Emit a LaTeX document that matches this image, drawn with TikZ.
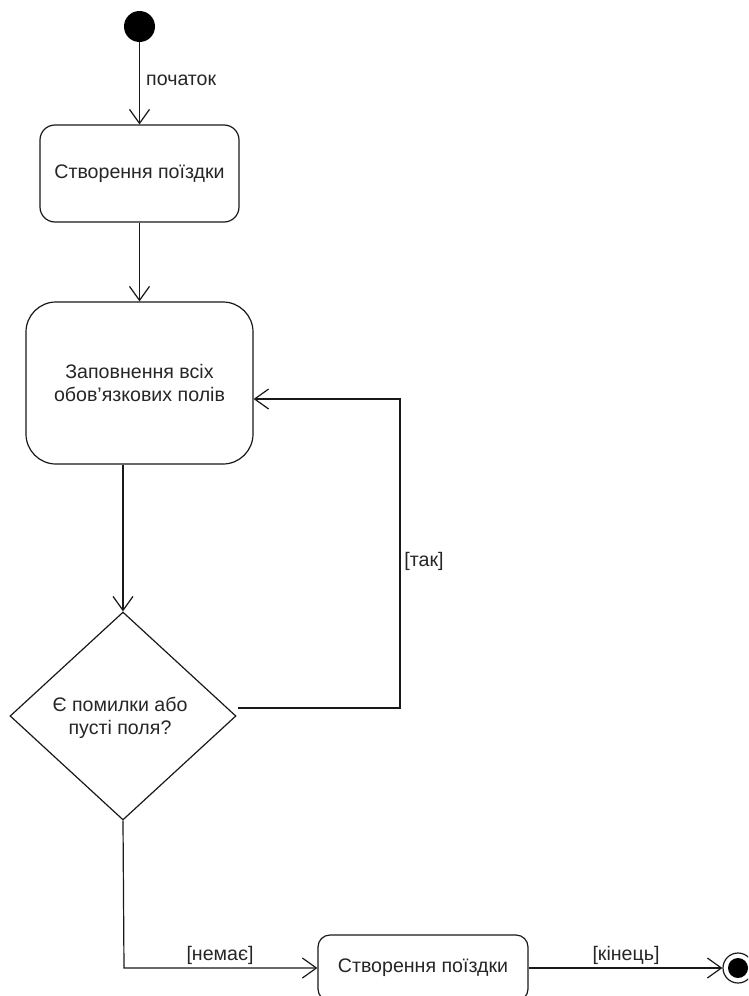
\documentclass[tikz,border=0pt]{standalone}
\usepackage{fontspec}
\setmainfont{Liberation Sans}
\usetikzlibrary{arrows.meta,shapes.geometric,calc}
\begin{document}
\begin{tikzpicture}[x=1pt,y=-1pt,
  every node/.style={font=\fontsize{19.6}{23.5}\selectfont, text=black!85},
  line/.style={draw=black!90, line width=1.2pt},
  arr/.style={line, -{Straight Barb[length=14pt,width=20pt,line width=1.2pt]}},
  actbox/.style={line, rectangle, inner sep=0pt, align=center},
  lbl/.style={inner sep=0pt}
]
\useasboundingbox (0,0) rectangle (748,996);
\clip (0,0) rectangle (748,996);
\fill[white] (0,0) rectangle (748,996);

\node[circle, fill=black, minimum size=31pt, inner sep=0pt] (start) at (139.5,26.5) {};
\node[actbox, rounded corners=15pt, minimum width=199pt, minimum height=97pt] (box1) at (139.5,173.5) {Створення поїздки};
\node[actbox, rounded corners=30pt, minimum width=227pt, minimum height=162pt] (box2) at (139.5,383) {Заповнення всіх\\обов{\char"27}язкових полів};
\node[line, diamond, minimum width=226pt, minimum height=208pt, inner sep=0pt] (dec) at (123,716) {};
\node[align=center, inner sep=0pt] (dectext) at (120,718) {Є помилки або\\пусті поля?};
\node[actbox, rounded corners=12pt, minimum width=210pt, minimum height=66pt] (box3) at (423,968) {Створення поїздки};
\node[circle, line, minimum size=30pt, inner sep=0pt] (final) at (738,968) {};
\node[circle, fill=black, minimum size=20pt, inner sep=0pt] (finalin) at (738,968) {};

\coordinate (loopstart) at (238,708);
\coordinate (loopcorner) at (400,708);
\coordinate (loopend) at (400,399);
\coordinate (lowcorner) at (124,968);

\draw[arr] (start) -- (box1.north);
\draw[arr] (box1.south) -- (box2.north);
\draw[arr] (box2.south -| dec.north) -- (dec.north);
\draw[arr] (loopstart) -- (loopcorner) -- (loopend) -- (loopend -| box2.east);
\draw[arr] (dec.south) -- (lowcorner) -- (box3.west);
\draw[arr] (box3.east) -- (final.west);

\node[lbl, anchor=west] (l1) at (146,80) {початок};
\node[lbl] (l2) at (424,561) {[так]};
\node[lbl] (l3) at (220,955) {[немає]};
\node[lbl] (l4) at (626,955) {[кінець]};
\end{tikzpicture}
\end{document}
